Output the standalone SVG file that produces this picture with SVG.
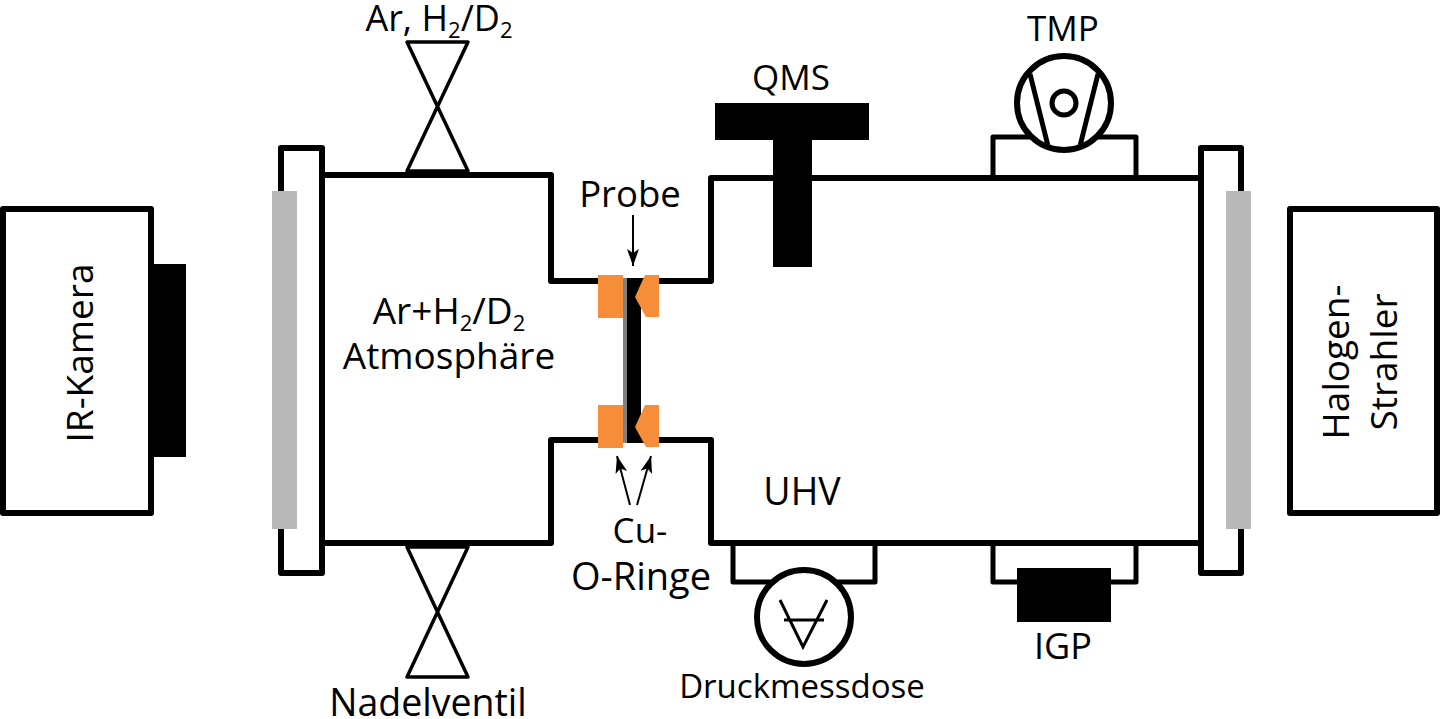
<svg xmlns="http://www.w3.org/2000/svg" width="1440" height="719" viewBox="0 0 1440 719">
<defs>
<marker id="ah" markerUnits="userSpaceOnUse" markerWidth="18" markerHeight="14" refX="17" refY="7" orient="auto"><path d="M0,1 L17,7 L0,13 L4,7 Z" fill="#000"/></marker>
</defs>
<style>
.l{fill:none;stroke:#000;stroke-width:6;stroke-linejoin:round;stroke-linecap:square}
.w{fill:#fff;stroke:#000;stroke-width:6;stroke-linejoin:round}
.v{fill:none;stroke:#000;stroke-width:3.500;stroke-linejoin:round}
.s{fill:none;stroke:#000;stroke-width:5;stroke-linejoin:round;stroke-linecap:square}
.a{fill:none;stroke:#000;stroke-width:2;marker-end:url(#ah)}
.k{fill:#000}.g{fill:#b9b9b9}.o{fill:#f68d38}
text{font-family:"Open Sans","Noto Sans",sans-serif;font-size:36px;fill:#000;text-anchor:middle}
.b{font-size:22px}
</style>
<rect width="1440" height="719" fill="#fff"/>
<g id="ir-kamera"><rect class="w" x="3" y="209" width="148" height="304"/><rect class="k" x="151" y="264" width="35" height="193"/><text font-size="37" style="font-size:37px" transform="translate(93 353) rotate(-90)">IR-Kamera</text></g>
<g id="left-flange"><path class="l" d="M281,190V148H322V573H281V530"/><rect class="g" x="272" y="191" width="25" height="338"/></g>
<g id="left-chamber"><path class="l" d="M325,175H551V281H600M600,440H551V543H325"/></g>
<g id="right-chamber"><path class="l" d="M630,281H711V178H1198M1198,543H711V440H630"/></g>
<g id="valve-top"><path class="v" d="M407,42H468L407,171H468Z"/><text x="439" y="31">Ar, H<tspan class="b" dy="7">2</tspan><tspan dy="-7">/D</tspan><tspan class="b" dy="7">2</tspan></text></g>
<g id="valve-bottom"><path class="v" d="M407,547H468L407,677H468Z"/><text style="font-size:37.500px" x="428" y="716">Nadelventil</text></g>
<g id="qms"><rect class="k" x="715" y="103" width="154" height="37"/><rect class="k" x="773" y="140" width="39" height="127"/><text style="font-size:35px" x="791" y="90">QMS</text></g>
<g id="tmp"><path class="s" d="M993,178V137H1136V178"/><circle cx="1064" cy="103" r="47" fill="#fff" stroke="#000" stroke-width="6"/><circle cx="1064" cy="103" r="12" fill="none" stroke="#000" stroke-width="5"/><path class="s" style="stroke-linecap:butt" d="M1030,74L1048,146M1098,74L1080,146"/><text style="font-size:35px" x="1063" y="41">TMP</text></g>
<g id="right-flange"><path class="l" d="M1241,190V148H1201V573H1241V530"/><rect class="g" x="1226" y="191" width="25" height="338"/></g>
<g id="halogen"><rect class="w" x="1290" y="209" width="147" height="304"/><text style="font-size:37px" transform="translate(1349 362) rotate(-90)">Halogen-</text><text style="font-size:37px" transform="translate(1397 362) rotate(-90)">Strahler</text></g>
<g id="probe"><rect x="623" y="278" width="5" height="165" fill="#808080"/><rect class="k" x="627" y="278" width="14" height="165"/>
<rect class="o" x="598" y="275" width="25" height="43"/><rect class="o" x="598" y="405" width="25" height="43"/>
<path class="o" d="M645,275H659V317H646L635,297Z"/><path class="o" d="M645,405H659V447H646L635,427Z"/><text style="font-size:36.500px" x="630" y="207">Probe</text></g>
<g id="connectors"><path class="a" d="M633,215V266"/><path class="a" d="M630,505L617,456"/><path class="a" d="M637,505L651,456"/></g>
<g id="cu-ringe"><text style="font-size:35px" x="640" y="543">Cu-</text><text style="font-size:38px" x="641" y="590">O-Ringe</text></g>
<g id="atmosphaere"><text style="font-size:37px" x="449" y="324">Ar+H<tspan class="b" dy="7">2</tspan><tspan dy="-7">/D</tspan><tspan class="b" dy="7">2</tspan></text>
<text style="font-size:37px" x="449" y="369">Atmosphäre</text></g>
<g id="uhv"><text style="font-size:37.500px" x="802" y="505">UHV</text></g>
<g id="druckmessdose"><path class="s" d="M733,543V582H875V543"/><circle cx="804" cy="617" r="47" fill="#fff" stroke="#000" stroke-width="6"/><path d="M780,600L803,647L827,600M784,620H824" fill="none" stroke="#000" stroke-width="3"/><text style="font-size:33px" x="802" y="698">Druckmessdose</text></g>
<g id="igp"><path class="s" d="M993,543V582H1136V543"/><rect class="k" x="1017" y="568" width="94" height="54"/><text x="1063" y="659">IGP</text></g>
</svg>
